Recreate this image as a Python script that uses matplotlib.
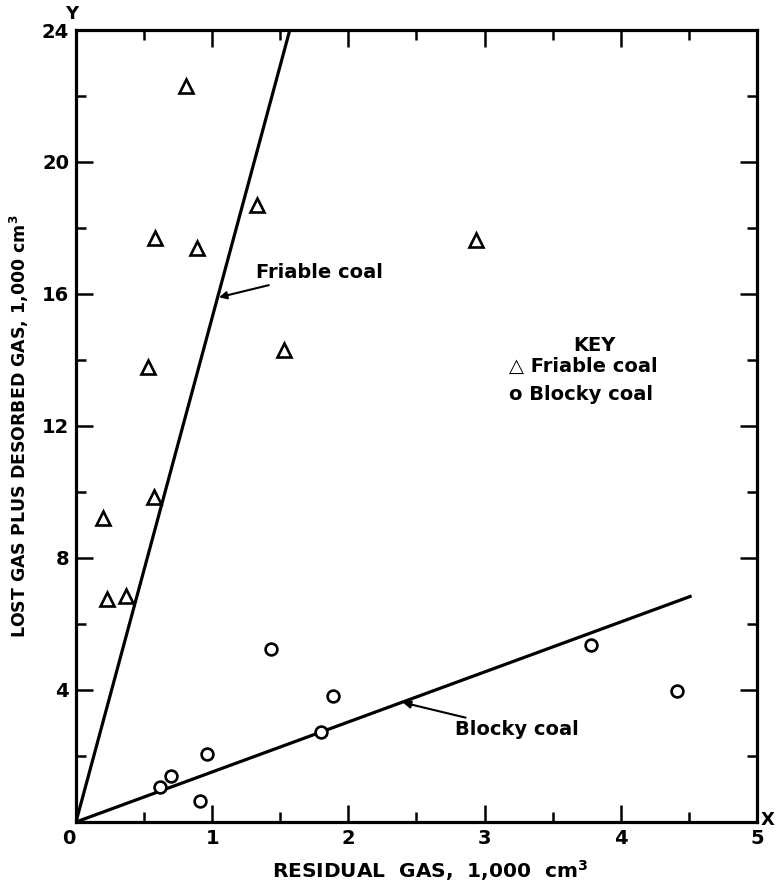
import matplotlib.pyplot as plt
import numpy as np

# values (1,000 cm3)
friable_x = [0.23, 0.37, 0.20, 0.57, 0.53, 0.58, 0.89, 0.81, 1.33, 1.53, 2.94]
friable_y = [6.75, 6.85, 9.2, 9.85, 13.8, 17.7, 17.4, 22.3, 18.7, 14.3, 17.65]

blocky_x = [0.62, 0.70, 0.91, 0.96, 1.43, 1.80, 1.89, 3.78, 4.41]
blocky_y = [1.06, 1.39, 0.64, 2.06, 5.24, 2.73, 3.82, 5.36, 3.97]

# fitted lines through origin
friable_line_x = [0, 1.57]
friable_line_y = [0, 24]
blocky_line_x = [0, 4.52]
blocky_line_y = [0, 6.85]

x_ticks = [1, 2, 3, 4, 5]
y_ticks = [4, 8, 12, 16, 20, 24]

plt.rcParams['font.family'] = ['DejaVu Sans']
plt.rcParams['font.weight'] = 'bold'

fig = plt.figure(figsize=(7.76, 8.85), dpi=100)
ax = fig.add_axes([0.0979, 0.0712, 0.8776, 0.8949])

ax.plot(friable_line_x, friable_line_y, color='k', lw=2.3, solid_capstyle='butt')
ax.plot(blocky_line_x, blocky_line_y, color='k', lw=2.3, solid_capstyle='butt')

ax.plot(friable_x, friable_y, ls='none', marker='^', ms=10.5, mfc='white',
        mec='k', mew=1.9)
ax.plot(blocky_x, blocky_y, ls='none', marker='o', ms=8.5, mfc='white',
        mec='k', mew=1.9)

ax.set_xlim(0, 5)
ax.set_ylim(0, 24)

ax.set_xticks(x_ticks)
ax.set_xticks(np.arange(0.5, 5, 1.0), minor=True)
ax.set_yticks(y_ticks)
ax.set_yticks(np.arange(2, 24, 4), minor=True)
ax.tick_params(which='both', direction='in', top=True, right=True,
               width=1.8, labelsize=14)
ax.tick_params(which='major', length=12, pad=5)
ax.tick_params(which='minor', length=7)
for lab in ax.get_xticklabels() + ax.get_yticklabels():
    lab.set_fontweight('bold')

for sp in ax.spines.values():
    sp.set_linewidth(2.3)

# shared origin label and axis letters
ax.text(0.0, -0.22, '0', ha='right', va='top', fontsize=14, fontweight='bold')
ax.text(-0.03, 24.2, 'Y', ha='center', va='bottom', fontsize=13, fontweight='bold')
ax.text(5.03, 0.05, 'X', ha='left', va='center', fontsize=13, fontweight='bold',
        clip_on=False)

ax.set_xlabel('RESIDUAL  GAS,  1,000  cm$^\\mathbf{3}$', fontsize=14.5,
              fontweight='bold')
ax.xaxis.set_label_coords(0.52, -0.045, transform=ax.transAxes)
ax.xaxis.label.set_va('top')
ax.set_ylabel('LOST GAS PLUS DESORBED GAS, 1,000 cm$^\\mathbf{3}$', fontsize=12.5,
              fontweight='bold', labelpad=8)

arrow = dict(arrowstyle='-|>', lw=1.5, color='k', mutation_scale=11,
             shrinkA=0, shrinkB=0)
ax.annotate('Friable coal', xy=(1.05, 15.9), xytext=(1.32, 16.64),
            ha='left', va='center', fontsize=14, fontweight='bold',
            arrowprops=arrow)
ax.annotate('Blocky coal', xy=(2.40, 3.62), xytext=(2.78, 2.79),
            ha='left', va='center', fontsize=14, fontweight='bold',
            arrowprops=arrow)

# key
ax.text(3.81, 14.45, 'KEY', ha='center', va='center', fontsize=14, fontweight='bold')
ax.text(3.18, 13.8, '\u25b3 Friable coal', ha='left', va='center', fontsize=14,
        fontweight='bold')
ax.text(3.18, 12.95, 'o Blocky coal', ha='left', va='center', fontsize=14,
        fontweight='bold')

fig.savefig('out.png', dpi=100)
